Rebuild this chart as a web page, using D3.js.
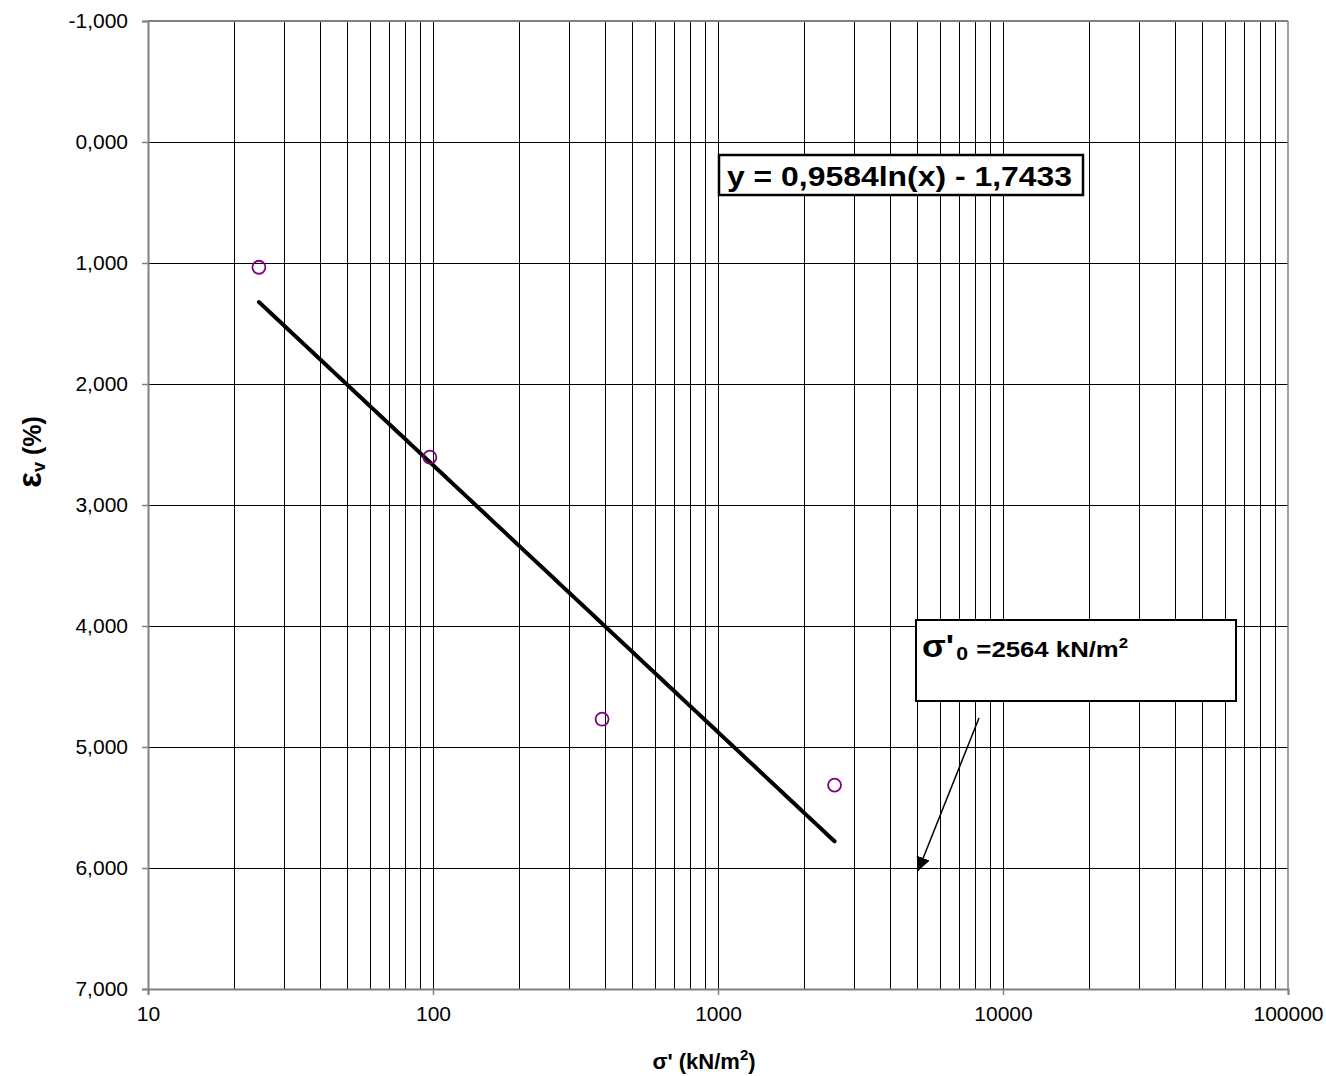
<!DOCTYPE html>
<html><head><meta charset="utf-8">
<script src="https://cdn.jsdelivr.net/npm/d3@7"></script>
<style>body{margin:0;background:#fff;font-family:Arial,"Liberation Sans",sans-serif;}</style>
</head><body>
<svg id="c" width="1326" height="1076"></svg>
<script>
const sigma = [24.5, 97.5, 392, 2564];
const strain = [1.035, 2.605, 4.77, 5.315];
const yTicks = [-1, 0, 1, 2, 3, 4, 5, 6, 7];
const xTicks = [10, 100, 1000, 10000, 100000];
const fitA = 0.9584, fitB = -1.7433;

const FONT = "Arial, Liberation Sans, sans-serif";
const svg = d3.select("#c").attr("font-family", FONT);
const L = 148, R = 1288, T = 21, B = 989;
const x = d3.scaleLog().domain([10, 100000]).range([L, R]);
const y = d3.scaleLinear().domain([-1, 7]).range([T, B]);

// minor + major vertical gridlines
const vlines = [];
for (let d = 10; d < 100000; d *= 10) for (let k = 2; k <= 10; k++) if (d * k < 100000) vlines.push(d * k);
svg.append("g").selectAll("line").data(vlines).join("line")
  .attr("x1", d => Math.round(x(d)) + 0.5).attr("x2", d => Math.round(x(d)) + 0.5)
  .attr("y1", T).attr("y2", B).attr("stroke", "#000").attr("stroke-width", 1);
// horizontal gridlines
svg.append("g").selectAll("line").data(yTicks.slice(1, -1)).join("line")
  .attr("x1", L).attr("x2", R).attr("y1", d => Math.round(y(d)) + 0.5).attr("y2", d => Math.round(y(d)) + 0.5)
  .attr("stroke", "#000").attr("stroke-width", 1);

// plot frame
svg.append("line").attr("x1", L).attr("x2", R).attr("y1", T).attr("y2", T).attr("stroke", "#808080").attr("stroke-width", 2);
svg.append("line").attr("x1", R).attr("x2", R).attr("y1", T).attr("y2", B).attr("stroke", "#808080").attr("stroke-width", 1.5);

// axes
const yAxis = d3.axisLeft(y).tickValues(yTicks).tickSize(6).tickPadding(14)
  .tickFormat(v => (v < 0 ? "-" : "") + Math.abs(v) + ",000");
const gy = svg.append("g").attr("transform", `translate(${L},0)`).call(yAxis);
gy.select(".domain").attr("stroke", "#808080").attr("stroke-width", 2);
gy.selectAll(".tick line").attr("stroke", "#808080").attr("stroke-width", 1.5);
gy.selectAll("text").attr("font-family", FONT).attr("font-size", 21).attr("fill", "#000");

const xAxis = d3.axisBottom(x).tickValues(xTicks).tickSize(6).tickPadding(11).tickFormat(d3.format("d"));
const gx = svg.append("g").attr("transform", `translate(0,${B})`).call(xAxis);
gx.select(".domain").attr("stroke", "#808080").attr("stroke-width", 2);
gx.selectAll(".tick line").attr("stroke", "#808080").attr("stroke-width", 1.5);
gx.selectAll("text").attr("font-family", FONT).attr("font-size", 21).attr("fill", "#000");

// trend line from fit equation
const xs = d3.range(0, 101).map(i => Math.exp(Math.log(sigma[0]) + (Math.log(sigma[3]) - Math.log(sigma[0])) * i / 100));
svg.append("path").datum(xs)
  .attr("d", d3.line().x(d => x(d)).y(d => y(fitA * Math.log(d) + fitB)))
  .attr("fill", "none").attr("stroke", "#000").attr("stroke-width", 4).attr("stroke-linecap", "round");

// points
svg.append("g").selectAll("circle").data(sigma).join("circle")
  .attr("cx", d => x(d)).attr("cy", (d, i) => y(strain[i])).attr("r", 6.5)
  .attr("fill", "none").attr("stroke", "#800080").attr("stroke-width", 1.8);

// equation box
svg.append("rect").attr("x", 719).attr("y", 155).attr("width", 364).attr("height", 40)
  .attr("fill", "#fff").attr("stroke", "#000").attr("stroke-width", 2.5);
svg.append("text").attr("x", 727).attr("y", 186).attr("font-size", 27).attr("font-weight", "bold")
  .attr("textLength", 345).attr("lengthAdjust", "spacingAndGlyphs")
  .text("y = 0,9584ln(x) - 1,7433");

// sigma box
svg.append("rect").attr("x", 916).attr("y", 620).attr("width", 320).attr("height", 81)
  .attr("fill", "#fff").attr("stroke", "#000").attr("stroke-width", 2);
const st = svg.append("text").attr("transform", "translate(922,657) scale(1.12,1)")
  .attr("font-size", 23).attr("font-weight", "bold");
st.append("tspan").attr("font-size", 31).text("σ'");
st.append("tspan").attr("dy", 3).attr("dx", 2).attr("font-size", 19).text("0");
st.append("tspan").attr("dy", -3).attr("dx", 1).text(" =2564 kN/m");
st.append("tspan").attr("dy", -9).attr("font-size", 15).text("2");

// arrow
const defs = svg.append("defs");
defs.append("marker").attr("id", "ah").attr("viewBox", "0 0 14 14").attr("refX", 14).attr("refY", 7)
  .attr("markerWidth", 14).attr("markerHeight", 14).attr("orient", "auto").attr("markerUnits", "userSpaceOnUse")
  .attr("preserveAspectRatio", "none")
  .append("path").attr("d", "M0,0 L14,7 L0,14 z").attr("fill", "#000");
svg.append("line").attr("x1", 979).attr("y1", 718).attr("x2", 918).attr("y2", 871)
  .attr("stroke", "#000").attr("stroke-width", 1.5).attr("marker-end", "url(#ah)");

// axis titles
const xt = svg.append("text").attr("x", 704).attr("y", 1069).attr("text-anchor", "middle")
  .attr("font-size", 22).attr("font-weight", "bold");
xt.append("tspan").text("σ' (kN/m");
xt.append("tspan").attr("dy", -9).attr("font-size", 15).text("2");
xt.append("tspan").attr("dy", 9).text(")");

const yt = svg.append("text").attr("transform", "translate(41,452) rotate(-90)").attr("text-anchor", "middle")
  .attr("font-size", 25).attr("font-weight", "bold");
yt.append("tspan").attr("font-size", 33).text("ε");
yt.append("tspan").attr("dy", 4).attr("font-size", 18).text("v");
yt.append("tspan").attr("dy", -4).text(" (%)");
</script>
</body></html>
